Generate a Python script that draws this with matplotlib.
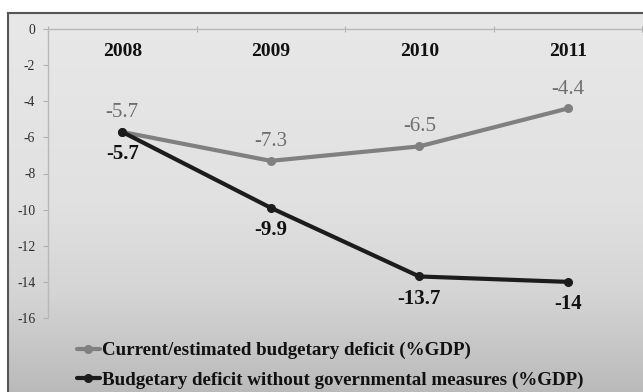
import numpy as np
import matplotlib
matplotlib.use("Agg")
import matplotlib.pyplot as plt
from matplotlib.colors import LinearSegmentedColormap

# --- data -------------------------------------------------------------
years = ["2008", "2009", "2010", "2011"]
current_deficit = [-5.7, -7.3, -6.5, -4.4]
deficit_no_measures = [-5.7, -9.9, -13.7, -14.0]
series_names = [
    "Current/estimated budgetary deficit (%GDP)",
    "Budgetary deficit without governmental measures (%GDP)",
]
y_ticks = [0, -2, -4, -6, -8, -10, -12, -14, -16]

# --- style ------------------------------------------------------------
SERIF = ["Liberation Serif", "DejaVu Serif"]
plt.rcParams["font.family"] = SERIF
GREY = "#808080"
BLACK = "#1c1c1c"

W, H, DPI = 643, 392, 100
fig = plt.figure(figsize=(W / DPI, H / DPI), dpi=DPI, facecolor="white")

# framed panel with a vertical grey gradient
fx0, fy_top = 8, 13
bg = fig.add_axes([fx0 / W, 0, 1 - fx0 / W, (H - fy_top) / H], zorder=0)
grad_cmap = LinearSegmentedColormap.from_list(
    "panel",
    [(0.0, "#bababa"), (0.25, "#d4d4d4"), (0.5, "#e1e1e1"), (1.0, "#e8e8e8")],
)
grad = np.linspace(0, 1, 256).reshape(-1, 1)
bg.imshow(grad, aspect="auto", cmap=grad_cmap, origin="lower",
          extent=[0, 1, 0, 1])
bg.set_xlim(0, 1)
bg.set_ylim(0, 1)
bg.set_xticks([])
bg.set_yticks([])
for side in ("right", "bottom"):
    bg.spines[side].set_visible(False)
for side in ("left", "top"):
    bg.spines[side].set_color("#555555")
    bg.spines[side].set_linewidth(1.5)

# plotting area
left, right = 48 / W, 642 / W
top, bottom = 1 - 29 / H, 1 - 318 / H
ax = fig.add_axes([left, bottom, right - left, top - bottom], zorder=1)
ax.patch.set_alpha(0)

x = np.arange(len(years))
ax.plot(x, current_deficit, color=GREY, lw=3.0, marker="o", ms=5.5,
        solid_capstyle="round", label=series_names[0], zorder=3)
ax.plot(x, deficit_no_measures, color=BLACK, lw=3.0, marker="o", ms=5.5,
        solid_capstyle="round", label=series_names[1], zorder=4)

ax.set_xlim(-0.5, len(years) - 0.5)
ax.set_ylim(-16, 0)

# y axis
ax.set_yticks(y_ticks)
ax.set_yticklabels([str(v) for v in y_ticks])
ax.tick_params(axis="y", direction="out", length=3.6, width=0.8,
               color="#b0b0b0", pad=5.5, labelsize=9.8, labelcolor="#2e2e2e")

# category axis sits on the zero line at the top
ax.xaxis.set_ticks_position("top")
ax.set_xticks([])
ax.set_xticks(np.arange(-0.5, len(years)), minor=True)
ax.tick_params(axis="x", which="minor", direction="inout", length=5,
               width=0.8, color="#b0b0b0", labeltop=False)
for xi, yr in zip(x, years):
    ax.text(xi, -1.27, yr, ha="center", va="center", fontsize=14,
            fontweight="bold", color="#111111")

for side in ("right", "bottom"):
    ax.spines[side].set_visible(False)
for side in ("left", "top"):
    ax.spines[side].set_color("#b8b8b8")
    ax.spines[side].set_linewidth(1.0)

# value labels
for xi, v in zip(x, current_deficit):
    ax.annotate(f"{v:g}", (xi, v), xytext=(0, 14), textcoords="offset points",
                ha="center", va="center", fontsize=15, color="#6e6e6e")
for xi, v in zip(x, deficit_no_measures):
    ax.annotate(f"{v:g}", (xi, v), xytext=(0, -16), textcoords="offset points",
                ha="center", va="center", fontsize=15, fontweight="bold",
                color="#111111")

# legend below the plot
leg = ax.legend(loc="upper left", bbox_to_anchor=(77 / W, 1 - 342 / H),
                bbox_transform=fig.transFigure, frameon=False,
                prop={"family": SERIF, "weight": "bold", "size": 13.7},
                handlelength=1.2, handletextpad=0.1, labelspacing=0.62,
                borderaxespad=0, borderpad=0)
for t in leg.get_texts():
    t.set_color("#111111")

fig.savefig("out.png", dpi=DPI, facecolor="white")
